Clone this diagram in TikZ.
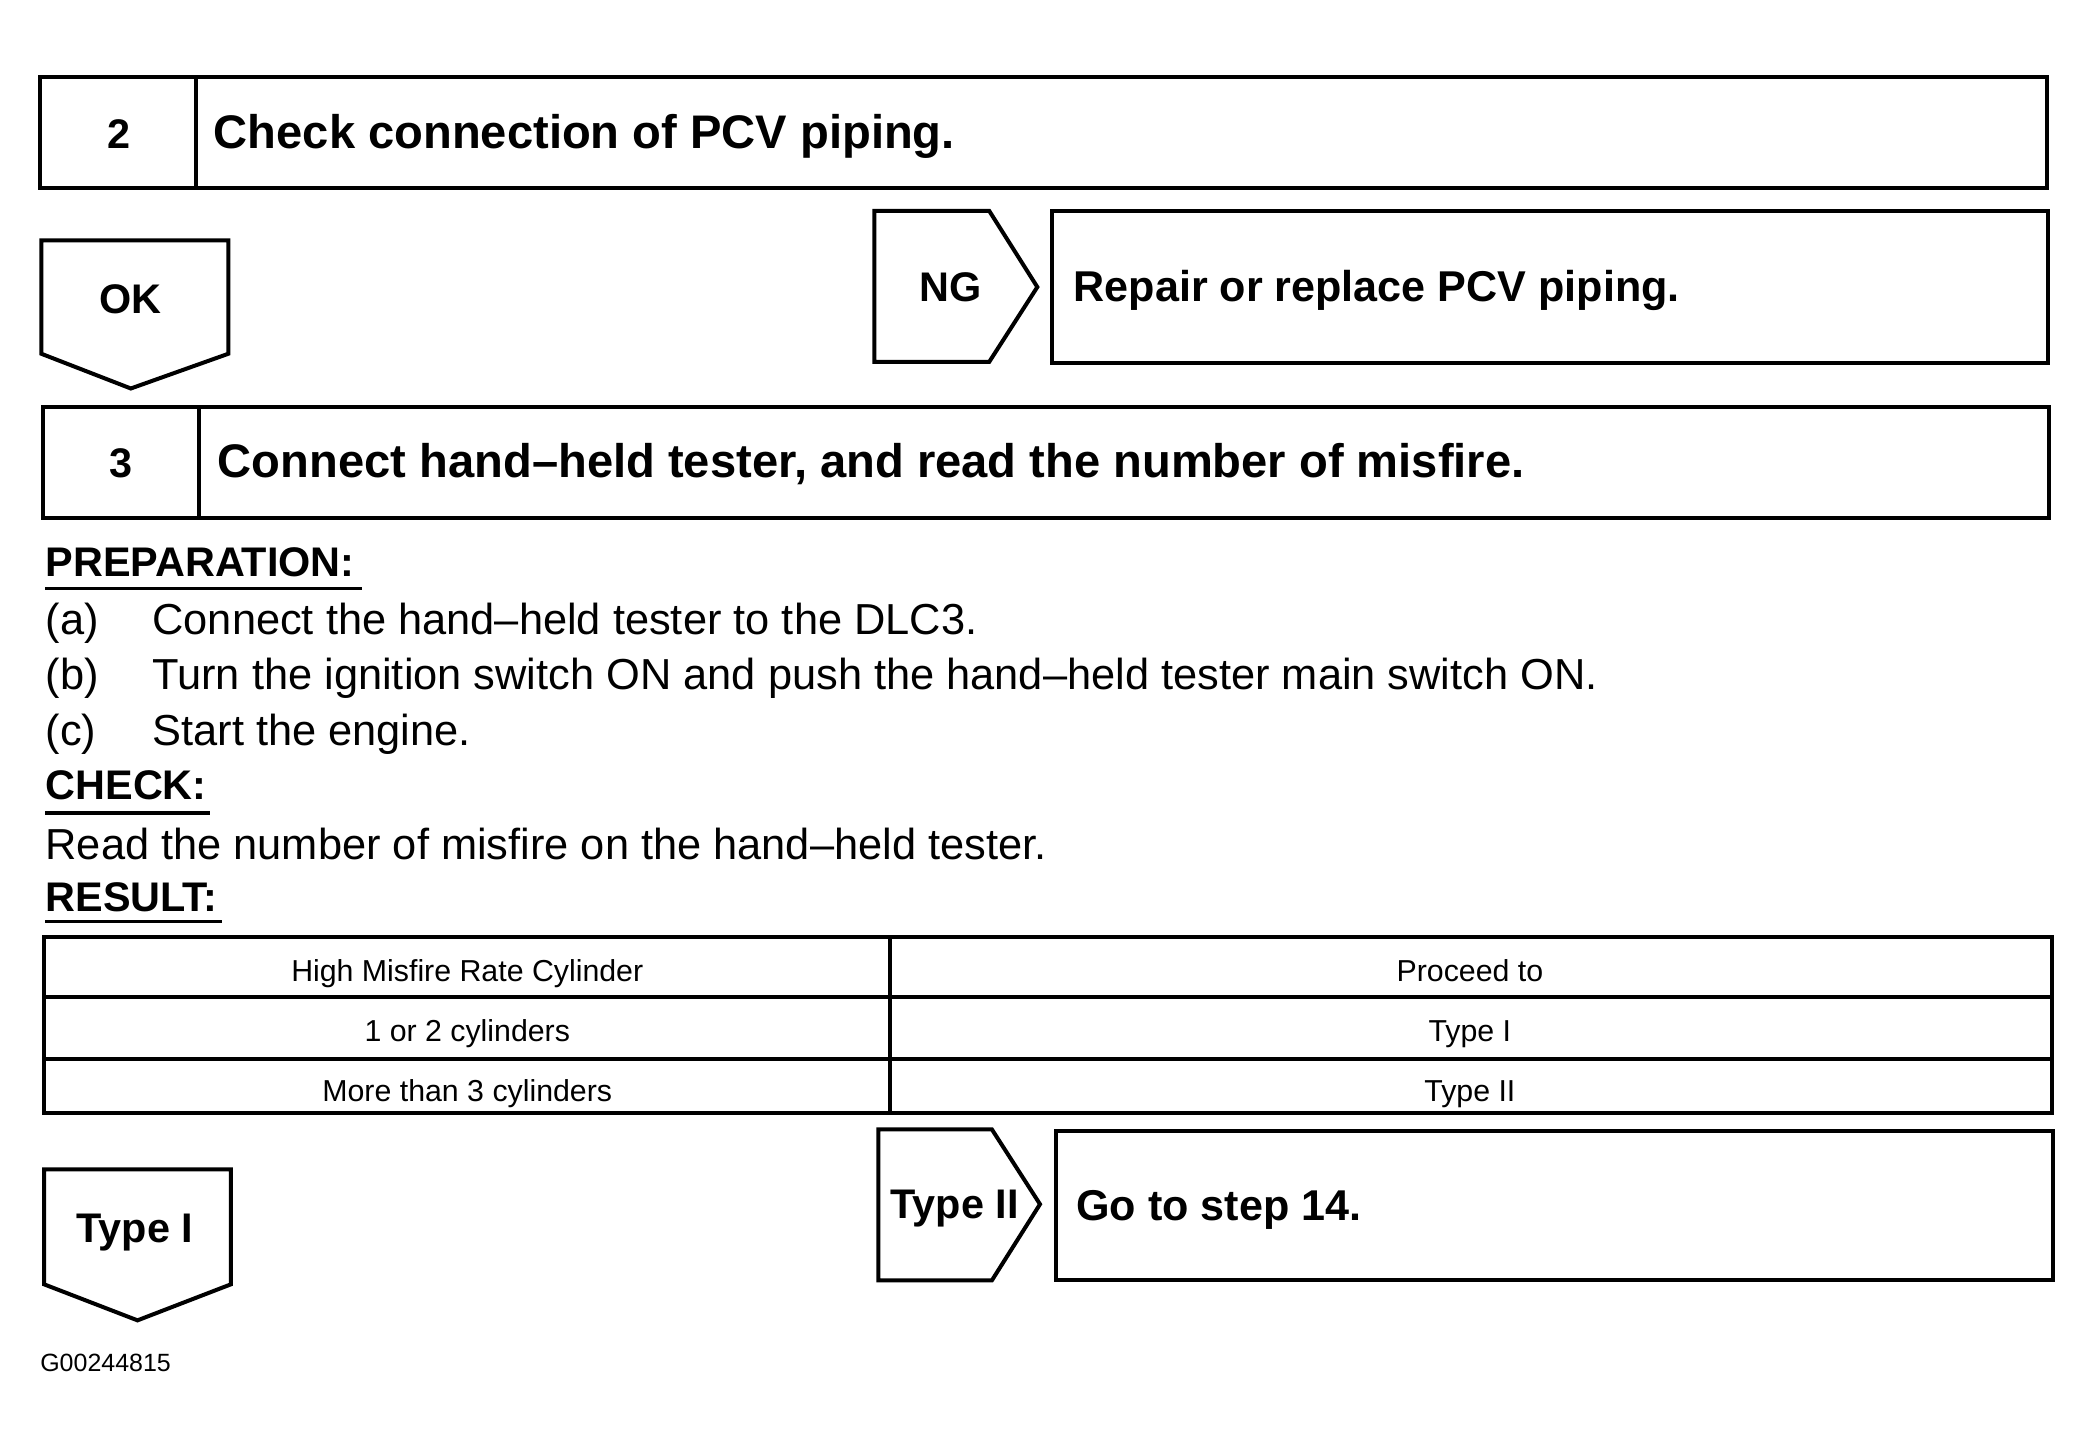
\documentclass[tikz,border=0pt]{standalone}
\usepackage{fontspec}
\setmainfont{Liberation Sans}
\begin{document}
\begin{tikzpicture}[x=1pt,y=-1pt,
  box/.style={line width=3pt, line join=miter},
  ttl/.style={anchor=base west, inner sep=0pt, font=\fontsize{35.3}{40}\selectfont\bfseries},
  side/.style={anchor=base west, inner sep=0pt, font=\fontsize{32.3}{38}\selectfont\bfseries},
  tag/.style={anchor=base, inner sep=0pt, font=\fontsize{31}{36}\selectfont\bfseries},
  head/.style={anchor=base west, inner sep=0pt, font=\fontsize{31}{36}\selectfont\bfseries},
  body/.style={anchor=base west, inner sep=0pt, font=\fontsize{32.5}{38}\selectfont},
  cell/.style={anchor=base, inner sep=0pt, font=\fontsize{22.7}{26}\selectfont},
  uline/.style={line width=2.5pt}
]
\useasboundingbox (0,0) rectangle (1567,1083.1);
% Step 2 box
\draw[box] (30,58) rectangle (1533,141);
\draw[box] (147,58) -- (147,141);
\node[tag] (n2) at (89,111) {2};
\node[ttl] (t2) at (160,111) {Check connection of PCV piping.};
% OK pointer
\draw[box] (31,180) -- (171,180) -- (171,265) -- (98,291) -- (31,265) -- cycle;
\node[tag] (ok) at (98,235) {OK};
% NG pointer and box
\draw[box] (655,158) -- (741,158) -- (777,215) -- (741,271) -- (655,271) -- cycle;
\node[tag] (ng) at (712,226) {NG};
\draw[box] (788,158) rectangle (1534,272);
\node[side] (rep) at (804,226) {Repair or replace PCV piping.};
% Step 3 box
\draw[box] (32,305) rectangle (1535,388);
\draw[box] (149,305) -- (149,388);
\node[tag] (n3) at (91,358) {3};
\node[ttl] (t3) at (163,358) {Connect hand–held tester, and read the number of misfire.};
% Preparation
\node[head] (prep) at (34,432) {PREPARATION:};
\draw[uline] (34,441) -- (271,441);
\node[body] (pa) at (34,475.5) {(a)};
\node[body] (pat) at (114,475.5) {Connect the hand–held tester to the DLC3.};
\node[body] (pb) at (34,516.5) {(b)};
\node[body] (pbt) at (114,516.5) {Turn the ignition switch ON and push the hand–held tester main switch ON.};
\node[body] (pc) at (34,558.5) {(c)};
\node[body] (pct) at (114,558.5) {Start the engine.};
\node[head] (chk) at (34,599) {CHECK:};
\draw[uline] (34,609) -- (157,609);
\node[body] (chkt) at (34,643.5) {Read the number of misfire on the hand–held tester.};
\node[head] (res) at (34,683) {RESULT:};
\draw[uline] (34,690) -- (166,690);
% Table
\draw[box] (33,702) rectangle (1537,834);
\draw[box] (33,747) -- (1537,747);
\draw[box] (33,793) -- (1537,793);
\draw[box] (667,702) -- (667,834);
\node[cell] (c11) at (350,735) {High Misfire Rate Cylinder};
\node[cell] (c12) at (1101,735) {Proceed to};
\node[cell] (c21) at (350,780) {1 or 2 cylinders};
\node[cell] (c22) at (1101,780) {Type I};
\node[cell] (c31) at (350,825) {More than 3 cylinders};
\node[cell] (c32) at (1101,825) {Type II};
% Type I pointer
\draw[box] (33,876) -- (173,876) -- (173,962) -- (103,989) -- (33,962) -- cycle;
\node[tag] (ty1) at (101,931) {Type I};
% Type II pointer and box
\draw[box] (658,846) -- (743,846) -- (779,902) -- (743,959) -- (658,959) -- cycle;
\node[tag] (ty2) at (715,913) {Type II};
\draw[box] (791,847) rectangle (1538,959);
\node[side] (go) at (806,914) {Go to step 14.};
% code
\node[anchor=base west, inner sep=0pt, font=\fontsize{18.7}{22}\selectfont] (code) at (30,1027.5) {G00244815};
\end{tikzpicture}
\end{document}
